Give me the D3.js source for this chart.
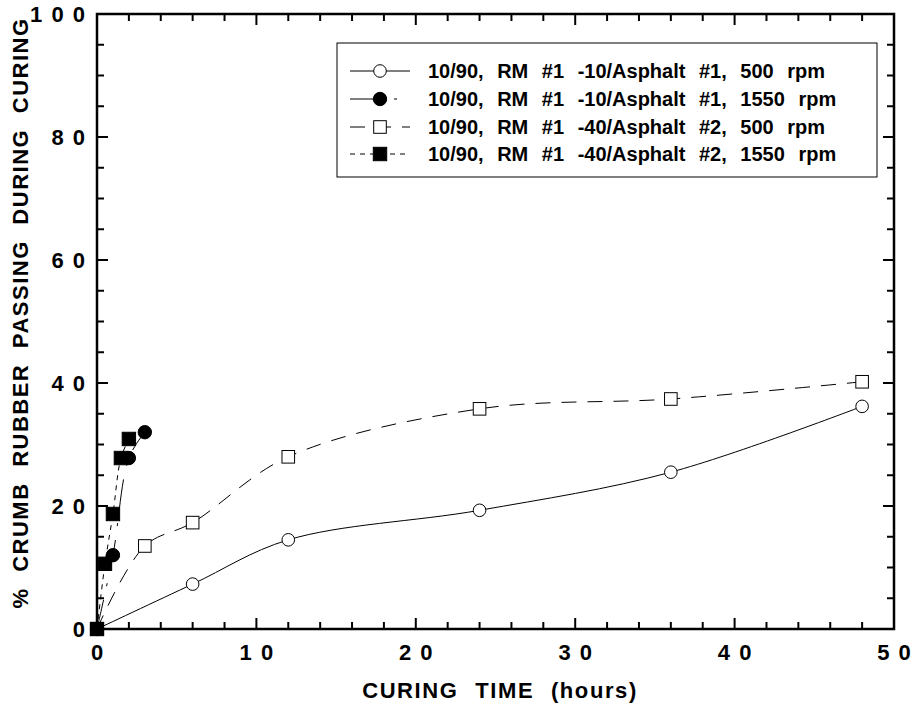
<!DOCTYPE html>
<html>
<head>
<meta charset="utf-8">
<script src="https://cdn.jsdelivr.net/npm/d3@7"></script>
<style>
  body { margin: 0; background: #fff; }
  svg { display: block; }
  text { font-family: "Liberation Sans", Arial, Helvetica, sans-serif; font-weight: bold; fill: #000; }
</style>
</head>
<body>
<svg id="chart" width="920" height="706"></svg>
<script>
// ---- Data ----
const seriesNames = [
  "10/90, RM #1 -10/Asphalt #1, 500 rpm",
  "10/90, RM #1 -10/Asphalt #1, 1550 rpm",
  "10/90, RM #1 -40/Asphalt #2, 500 rpm",
  "10/90, RM #1 -40/Asphalt #2, 1550 rpm"
];
const s1x = [0, 6, 12, 24, 36, 48];
const s1y = [0, 7.3, 14.5, 19.3, 25.5, 36.2];
const s2x = [0, 1, 2, 3];
const s2y = [0, 12.0, 27.8, 32.0];
const s3x = [0, 3, 6, 12, 24, 36, 48];
const s3y = [0, 13.5, 17.3, 28.0, 35.8, 37.4, 40.2];
const s4x = [0, 0.5, 1, 1.5, 2];
const s4y = [0, 10.6, 18.7, 27.8, 30.9];
const xTicks = [0, 10, 20, 30, 40, 50];
const yTicks = [0, 20, 40, 60, 80, 100];
const xTitle = "CURING TIME (hours)";
const yTitle = "% CRUMB RUBBER PASSING DURING CURING";

// ---- Layout ----
const svg = d3.select("#chart");
const L = 97, R = 894, T = 14, B = 629;
const x = d3.scaleLinear().domain([0, 50]).range([L, R]);
const y = d3.scaleLinear().domain([0, 100]).range([B, T]);

const spaced = d => String(d).split("").join(" ");

// ticks (inward, all four sides)
const xMinor = d3.range(0, 50.001, 2);
const yMinor = d3.range(0, 100.001, 5);
const tickG = svg.append("g").attr("stroke", "#000").attr("stroke-width", 2);
xMinor.forEach(v => {
  const len = (v % 10 === 0) ? 11 : 7;
  tickG.append("line").attr("x1", x(v)).attr("x2", x(v)).attr("y1", B).attr("y2", B - len);
  tickG.append("line").attr("x1", x(v)).attr("x2", x(v)).attr("y1", T).attr("y2", T + len);
});
yMinor.forEach(v => {
  const len = (v % 20 === 0) ? 11 : 7;
  tickG.append("line").attr("y1", y(v)).attr("y2", y(v)).attr("x1", L).attr("x2", L + len);
  tickG.append("line").attr("y1", y(v)).attr("y2", y(v)).attr("x1", R).attr("x2", R - len);
});

// frame
svg.append("rect").attr("x", L).attr("y", T).attr("width", R - L).attr("height", B - T)
  .attr("fill", "none").attr("stroke", "#000").attr("stroke-width", 2.5);

// tick labels
svg.append("g").selectAll("text").data(xTicks).join("text")
  .attr("x", d => x(d)).attr("y", 660).attr("text-anchor", "middle")
  .attr("font-size", 22).attr("word-spacing", 3).text(d => spaced(d));
svg.append("g").selectAll("text").data(yTicks).join("text")
  .attr("x", 85).attr("y", d => y(d) + 8).attr("text-anchor", "end")
  .attr("font-size", 22).attr("word-spacing", 3).text(d => spaced(d));

// axis titles
svg.append("text").attr("x", 500).attr("y", 698).attr("text-anchor", "middle")
  .attr("font-size", 22).attr("letter-spacing", 1.6).attr("word-spacing", 9).text(xTitle);
svg.append("text").attr("transform", "translate(28," + 313 + ") rotate(-90)")
  .attr("text-anchor", "middle").attr("font-size", 22).attr("letter-spacing", 1.5)
  .attr("word-spacing", 8).text(yTitle);

// series
const styles = [
  { xs: s1x, ys: s1y, dash: null, marker: "circle", fill: "#fff" },
  { xs: s2x, ys: s2y, dash: "30,14,3,14", marker: "circle", fill: "#000" },
  { xs: s3x, ys: s3y, dash: "15,11", marker: "square", fill: "#fff" },
  { xs: s4x, ys: s4y, dash: "5,5", marker: "square", fill: "#000" }
];
const line = d3.line().x(d => x(d[0])).y(d => y(d[1])).curve(d3.curveCatmullRom.alpha(0.5));

styles.forEach(s => {
  const pts = s.xs.map((v, i) => [v, s.ys[i]]);
  svg.append("path").datum(pts).attr("d", line).attr("fill", "none")
    .attr("stroke", "#000").attr("stroke-width", 1)
    .attr("stroke-dasharray", s.dash);
});

function drawMarker(g, type, fill, cx, cy) {
  if (type === "circle") {
    g.append("circle").attr("cx", cx).attr("cy", cy).attr("r", fill === "#000" ? 6.7 : 6.3)
      .attr("fill", fill).attr("stroke", "#000").attr("stroke-width", 1);
  } else {
    const h = fill === "#000" ? 6.7 : 6.3;
    g.append("rect").attr("x", cx - h).attr("y", cy - h).attr("width", 2 * h).attr("height", 2 * h)
      .attr("fill", fill).attr("stroke", "#000").attr("stroke-width", 1);
  }
}
const mg = svg.append("g");
styles.forEach(s => {
  s.xs.forEach((v, i) => drawMarker(mg, s.marker, s.fill, x(v), y(s.ys[i])));
});

// legend
const lg = svg.append("g");
lg.append("rect").attr("x", 337).attr("y", 43).attr("width", 540).attr("height", 134)
  .attr("fill", "#fff").attr("stroke", "#000").attr("stroke-width", 1);
const rowY = [71, 99, 127, 154];
styles.forEach((s, i) => {
  lg.append("line").attr("x1", 350).attr("x2", 410).attr("y1", rowY[i]).attr("y2", rowY[i])
    .attr("stroke", "#000").attr("stroke-width", 1).attr("stroke-dasharray", s.dash);
  drawMarker(lg, s.marker, s.fill, 380, rowY[i]);
  lg.append("text").attr("x", 428).attr("y", rowY[i] + 7).attr("font-size", 20)
    .attr("word-spacing", 8).text(seriesNames[i]);
});
</script>
</body>
</html>
